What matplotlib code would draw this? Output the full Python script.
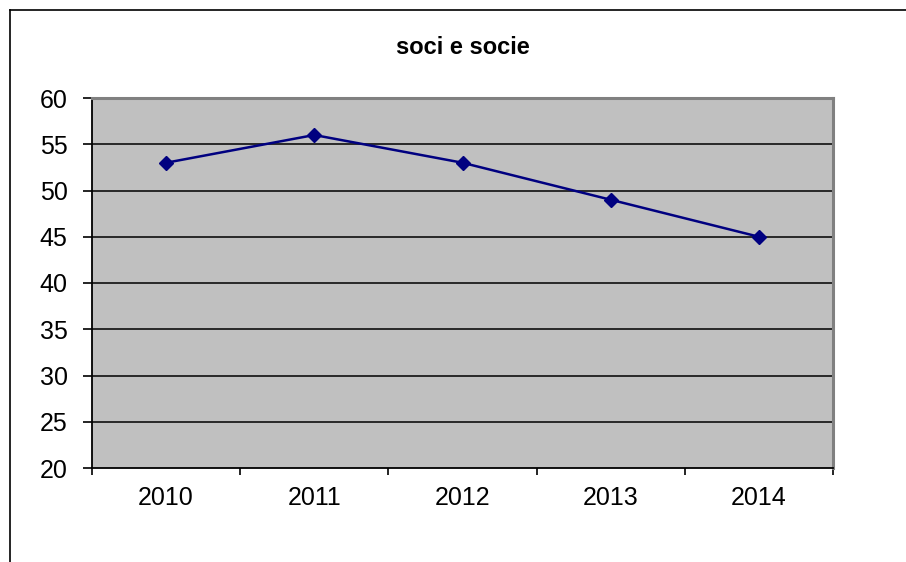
import matplotlib
matplotlib.use("Agg")
import matplotlib.pyplot as plt
from matplotlib.lines import Line2D
import numpy as np

plt.rcParams["font.family"] = ["Liberation Sans", "DejaVu Sans"]

TITLE = "soci e socie"
years = ["2010", "2011", "2012", "2013", "2014"]
values = [53, 56, 53, 49, 45]
y_ticks = [20, 25, 30, 35, 40, 45, 50, 55, 60]

W, H = 906, 562
fig = plt.figure(figsize=(W / 100, H / 100), dpi=100)
fig.patch.set_facecolor("white")

# chart-area border (left + top only, clipped in the original)
fig.add_artist(Line2D([10 / W, 10 / W], [0, 1 - 10 / H], color="black", lw=1.2))
fig.add_artist(Line2D([10 / W, 1], [1 - 10 / H, 1 - 10 / H], color="black", lw=1.2))

ax = fig.add_axes([92 / W, (H - 468) / H, (833 - 92) / W, (468 - 98) / H])
ax.set_facecolor("#C0C0C0")

x = np.arange(len(years))
ax.plot(x, values, color="#000080", lw=1.8, marker="D", ms=7.5, mfc="#000080", mec="#000080", zorder=3)

ax.set_xlim(-0.5, len(years) - 0.5)
ax.set_ylim(20, 60)
ax.set_yticks(y_ticks)
for v in y_ticks[1:-1]:
    ax.axhline(v, color="black", lw=1.1, zorder=1)

ax.set_xticks(x)
ax.set_xticklabels(years)
ax.set_xticks(np.arange(len(years) + 1) - 0.5, minor=True)
ax.tick_params(axis="x", which="major", length=0, pad=13, labelsize=18)
ax.tick_params(axis="x", which="minor", length=5, width=1.2, direction="out")
ax.tick_params(axis="y", length=6.5, width=1.2, direction="out", pad=11, labelsize=18)

for s in ("left", "bottom"):
    ax.spines[s].set_color("black")
    ax.spines[s].set_linewidth(1.3)
for s in ("top", "right"):
    ax.spines[s].set_color("#808080")
    ax.spines[s].set_linewidth(2.2)

fig.text(463 / W, 1 - 48 / H, TITLE, ha="center", va="center", fontsize=17, fontweight="bold")

fig.savefig("out.png", dpi=100)
